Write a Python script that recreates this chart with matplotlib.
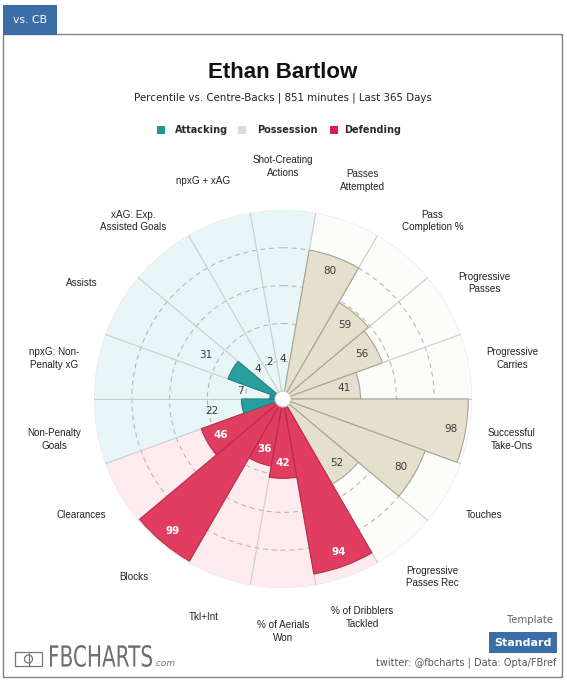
import numpy as np
import matplotlib
matplotlib.use("Agg")
from matplotlib import pyplot as plt
from matplotlib.patches import Rectangle, Ellipse, PathPatch
from matplotlib.textpath import TextPath
from matplotlib.font_manager import FontProperties
import matplotlib.transforms as mtransforms

categories = ["Shot-Creating\nActions", "Passes\nAttempted", "Pass\nCompletion %",
              "Progressive\nPasses", "Progressive\nCarries", "Successful\nTake-Ons",
              "Touches", "Progressive\nPasses Rec", "% of Dribblers\nTackled",
              "% of Aerials\nWon", "Tkl+Int", "Blocks", "Clearances",
              "Non-Penalty\nGoals", "npxG: Non-\nPenalty xG", "Assists",
              "xAG: Exp.\nAssisted Goals", "npxG + xAG"]
values = [4, 80, 59, 56, 41, 98, 80, 52, 94, 42, 36, 99, 46, 22, 7, 31, 4, 2]
groups = ["Attacking"] + ["Possession"] * 7 + ["Defending"] * 5 + ["Attacking"] * 5
group_names = ["Attacking", "Possession", "Defending"]

bar_col = {"Attacking": "#2a9d9f", "Possession": "#e5e0ce", "Defending": "#e03d60"}
edge_col = {"Attacking": "#1e8082", "Possession": "#a9a48f", "Defending": "#b82c4b"}
bg_col = {"Attacking": "#e8f6f8", "Possession": "#fcfcfa", "Defending": "#fdebef"}
legend_col = {"Attacking": "#1e9598", "Possession": "#dedccc", "Defending": "#d7204f"}

W, H = 567, 680
fig = plt.figure(figsize=(W / 100, H / 100), dpi=100)


def fx(x):
    return x / W


def fy(y):
    return 1 - y / H


# polar axes: centre (283, 399), radius 189 px
cx, cy, R = 283, 399, 189
ax = fig.add_axes([fx(cx - R), fy(cy + R), 2 * R / W, 2 * R / H], projection="polar")
ax.set_theta_zero_location("N")
ax.set_theta_direction(-1)
ax.set_ylim(0, 100)
ax.axis("off")

n = len(values)
theta = np.deg2rad(np.arange(n) * 360 / n)
width = 2 * np.pi / n

ax.bar(theta, [100] * n, width=width, color=[bg_col[g] for g in groups],
       edgecolor="#e2e2e2", linewidth=0.6, zorder=1)

ring = np.linspace(0, 2 * np.pi, 500)
for r in [20, 40, 60, 80]:
    ax.plot(ring, [r] * len(ring), color="#b0b0b0", lw=0.7, ls=(0, (5, 4)), zorder=2)
for t in theta + width / 2:
    ax.plot([t, t], [0, 100], color="#cdcdcd", lw=0.7, zorder=2)

ax.bar(theta, values, width=width, color=[bar_col[g] for g in groups],
       edgecolor=[edge_col[g] for g in groups], linewidth=0.8, zorder=3)

ax.add_patch(Ellipse((0.5, 0.5), 16 / (2 * R), 16 / (2 * R), transform=ax.transAxes,
                     facecolor="white", edgecolor="#c8c8c8", lw=0.8, zorder=5))

for t, v, g in zip(theta, values, groups):
    if v >= 35:
        pos = v - 8
        col = "white" if g == "Defending" else "#3a3a3a"
        wt = "bold" if g == "Defending" else "normal"
    else:
        pos = max(v, 5) + 16
        col, wt = "#3a3a3a", "normal"
    ax.text(t, pos, str(v), ha="center", va="center", fontsize=7.5,
            color=col, fontweight=wt, family="DejaVu Sans", zorder=6)

for t, c in zip(theta, categories):
    ax.text(t, 123, c, ha="center", va="center", fontsize=7.1, color="#222222",
            family="Liberation Sans", linespacing=1.3)

# frame and tab
fig.patches.append(Rectangle((fx(3), fy(677)), fx(562) - fx(3), fy(34) - fy(677),
                             transform=fig.transFigure, fill=False, ec="#808080", lw=1))
fig.patches.append(Rectangle((fx(3), fy(35)), fx(57) - fx(3), fy(5) - fy(35),
                             transform=fig.transFigure, color="#3b6ea7", lw=0))
fig.text(fx(30), fy(20), "vs. CB", ha="center", va="center", color="white",
         fontsize=7.8, family="DejaVu Sans")

fig.text(fx(283), fy(72), "Ethan Bartlow", ha="center", va="center", fontsize=16,
         fontweight="bold", family="Liberation Sans", color="#111111")
fig.text(fx(283), fy(98), "Percentile vs. Centre-Backs | 851 minutes | Last 365 Days",
         ha="center", va="center", fontsize=7.4, family="DejaVu Sans", color="#222222")

# legend
for g, sx, tx in zip(group_names, [161, 242, 334], [175, 257, 344]):
    fig.patches.append(Rectangle((fx(sx - 4), fy(134)), 8 / W, 8 / H,
                                 transform=fig.transFigure, color=legend_col[g], lw=0))
    fig.text(fx(tx), fy(130), g, ha="left", va="center", fontsize=7,
             fontweight="bold", family="DejaVu Sans", color="#2a2a2a")

# bottom right
fig.text(fx(553), fy(620), "Template", ha="right", va="center", fontsize=7.3,
         family="DejaVu Sans", color="#666666")
fig.patches.append(Rectangle((fx(489), fy(653)), fx(557) - fx(489), fy(632) - fy(653),
                             transform=fig.transFigure, color="#3b6ea7", lw=0))
fig.text(fx(523), fy(642.5), "Standard", ha="center", va="center", fontsize=8,
         fontweight="bold", family="DejaVu Sans", color="white")
fig.text(fx(556), fy(663), "twitter: @fbcharts | Data: Opta/FBref", ha="right",
         va="center", fontsize=7, family="DejaVu Sans", color="#555555")

# logo
fig.patches.append(Rectangle((fx(15), fy(666)), fx(42) - fx(15), fy(652) - fy(666),
                             transform=fig.transFigure, fill=False, ec="#777777", lw=0.9))
fig.lines.append(plt.Line2D([fx(28.5), fx(28.5)], [fy(652), fy(666)],
                            transform=fig.transFigure, color="#777777", lw=0.9))
fig.patches.append(Ellipse((fx(28.5), fy(659)), 8 / W, 8 / H, transform=fig.transFigure,
                           fill=False, ec="#777777", lw=0.9))
tp = TextPath((0, 0), "FBCHARTS", size=1, prop=FontProperties(family="DejaVu Sans"))
bb = tp.get_extents()
sx = 102 / bb.width
sy = 22 / bb.height
tr = mtransforms.Affine2D().translate(-bb.x0, -bb.y0).scale(sx / W, sy / H) \
    .translate(fx(50), fy(667)) + fig.transFigure
fig.patches.append(PathPatch(tp, transform=tr, facecolor="#6e6e6e", lw=0))
fig.text(fx(153), fy(663), ".com", ha="left", va="center", fontsize=6.5,
         style="italic", family="DejaVu Sans", color="#777777")

fig.savefig("out.png", dpi=100, facecolor="white")
